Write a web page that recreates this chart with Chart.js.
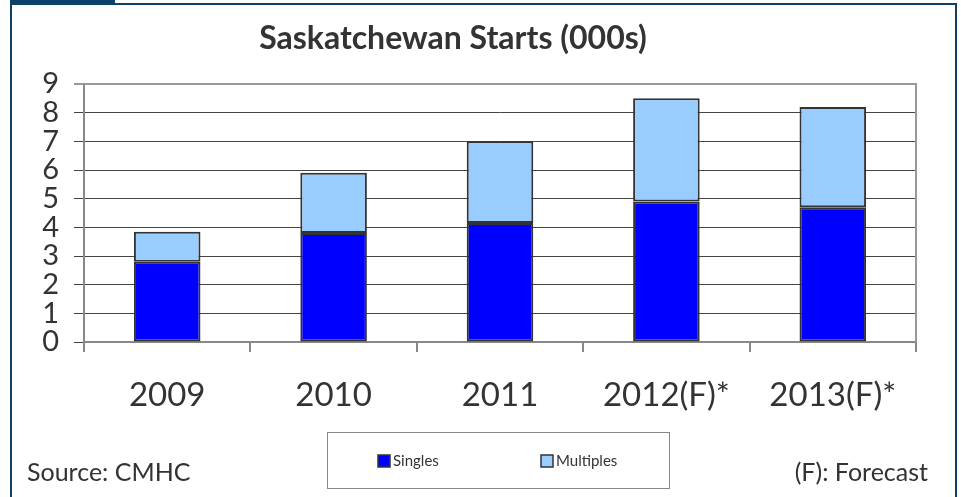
<!DOCTYPE html>
<html>
<head>
<meta charset="utf-8">
<script src="https://cdn.jsdelivr.net/npm/chart.js@4"></script>
<style>
  body { margin: 0; background: #fff; }
  canvas { display: block; }
</style>
</head>
<body>
<canvas id="StartsChart" width="961" height="497"></canvas>
<script>
var years = ['2009', '2010', '2011', '2012(F)*', '2013(F)*'];
var singles = [2.8, 3.8, 4.15, 4.9, 4.7];
var multiples = [1.05, 2.1, 2.85, 3.6, 3.5];
var yTicks = [0, 1, 2, 3, 4, 5, 6, 7, 8, 9];

var FONT = 'Lato, "Open Sans", sans-serif';
var TEXT = '#333333';

// frame, title, notes and legend box around the plot
var decor = {
    id: 'decor',
    beforeDraw: function(chart) {
        var c = chart.ctx;
        c.save();
        c.fillStyle = '#ffffff';
        c.fillRect(0, 0, chart.width, chart.height);
        c.fillStyle = '#0d4168';
        c.fillRect(10, 0, 105, 4);
        c.fillRect(10, 3, 947, 2);
        c.fillRect(10, 3, 2, chart.height);
        c.fillRect(955, 3, 2, chart.height);
        c.restore();
    },
    afterDraw: function(chart) {
        var c = chart.ctx;
        var a = chart.chartArea;
        c.save();
        // top and right edge of plot
        c.strokeStyle = '#999999';
        c.lineWidth = 2;
        c.beginPath();
        c.moveTo(a.left, a.top);
        c.lineTo(a.right, a.top);
        c.lineTo(a.right, a.bottom);
        c.stroke();

        c.fillStyle = TEXT;
        c.font = 'bold 32px ' + FONT;
        c.textAlign = 'center';
        c.textBaseline = 'middle';
        c.fillText('Saskatchewan Starts (000s)', 453, 39);

        c.font = '25px ' + FONT;
        c.textBaseline = 'alphabetic';
        c.textAlign = 'left';
        c.fillText('Source: CMHC', 27, 481);
        c.textAlign = 'right';
        c.fillText('(F): Forecast', 928, 481);

        // legend
        c.strokeStyle = '#888888';
        c.lineWidth = 1;
        c.strokeRect(327.5, 432.5, 342, 56);
        var xs = [378, 541];
        c.font = '15px ' + FONT;
        c.textAlign = 'left';
        c.textBaseline = 'middle';
        chart.data.datasets.forEach(function(ds, i) {
            c.fillStyle = ds.backgroundColor;
            c.fillRect(xs[i], 455, 12, 12);
            c.strokeStyle = '#333333';
            c.lineWidth = 1.5;
            c.strokeRect(xs[i], 455, 12, 12);
            c.fillStyle = TEXT;
            c.fillText(ds.label, xs[i] + 15, 461);
        });
        c.restore();
    }
};

var ctx = document.getElementById('StartsChart').getContext('2d');
var startsChart = new Chart(ctx, {
    type: 'bar',
    data: {
        labels: years,
        datasets: [{
            label: 'Singles',
            data: singles,
            backgroundColor: '#0000ff',
            borderColor: '#333333',
            borderWidth: 2,
            borderSkipped: false
        }, {
            label: 'Multiples',
            data: multiples,
            backgroundColor: '#99ccff',
            borderColor: '#333333',
            borderWidth: 2,
            borderSkipped: false
        }]
    },
    options: {
        responsive: false,
        animation: false,
        layout: {
            padding: { left: 0, top: 84, right: 45, bottom: 75 }
        },
        datasets: {
            bar: { barPercentage: 0.4, categoryPercentage: 1.0 }
        },
        plugins: {
            legend: { display: false },
            title: { display: false },
            tooltip: { enabled: false }
        },
        scales: {
            x: {
                stacked: true,
                grid: {
                    offset: true,
                    drawOnChartArea: false,
                    tickLength: 10,
                    color: '#888888',
                    lineWidth: 2
                },
                border: { color: '#888888', width: 2 },
                ticks: {
                    color: TEXT,
                    font: { family: FONT, size: 33 },
                    padding: 24,
                    maxRotation: 0,
                    autoSkip: false
                },
                afterFit: function(scale) { scale.height = 80; }
            },
            y: {
                stacked: true,
                min: 0,
                max: 9,
                afterBuildTicks: function(scale) {
                    scale.ticks = yTicks.map(function(v) { return { value: v }; });
                },
                grid: {
                    tickLength: 10,
                    color: function(c) { return c.tick && c.tick.value === 9 ? '#999999' : '#444444'; },
                    lineWidth: function(c) { return c.tick && c.tick.value === 9 ? 2 : 1; }
                },
                border: { color: '#888888', width: 2 },
                ticks: {
                    color: TEXT,
                    font: { family: FONT, size: 29 },
                    padding: 15,
                    autoSkip: false
                },
                afterFit: function(scale) { scale.width = 84; }
            }
        }
    },
    plugins: [decor]
});
</script>
</body>
</html>
